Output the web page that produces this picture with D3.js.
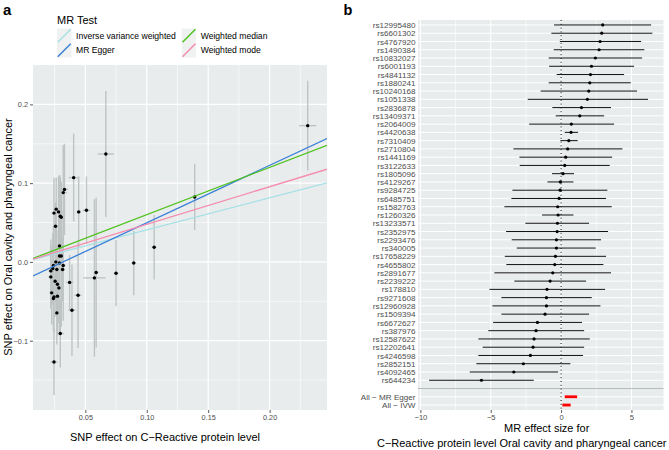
<!DOCTYPE html>
<html>
<head>
<meta charset="utf-8">
<script src="https://cdn.jsdelivr.net/npm/d3@7"></script>
<style>
  body { margin: 0; background: #fff; }
  svg text { font-family: "Liberation Sans", Arial, sans-serif; }
</style>
</head>
<body>
<div class="container"></div>
<script>
// panel a : SNP effects on exposure (x) and outcome (y), with error half-widths
var snpBetaX = [0.231, 0.0667, 0.0405, 0.033, 0.032, 0.0509, 0.0446, 0.0263, 0.0282, 0.0296,
  0.0304, 0.0257, 0.029, 0.029, 0.0304, 0.139, 0.106, 0.0894, 0.075, 0.0588,
  0.0574, 0.0372, 0.024, 0.029, 0.032, 0.0219, 0.0268, 0.0315, 0.0219, 0.0254,
  0.0273, 0.0226, 0.0245, 0.024, 0.0273, 0.0441, 0.0391, 0.0268, 0.0296, 0.0245,
  0.0235, 0.026, 0.0285, 0.0245];
var snpBetaY = [0.173, 0.137, 0.107, 0.092, 0.088, 0.0656, 0.0635, 0.067, 0.0635, 0.058,
  0.0567, 0.0453, 0.0203, 0.0076, 0.0076, 0.0825, 0.0187, -0.0013, -0.0143, -0.0135,
  -0.0203, -0.026, -0.0046, -0.0013, -0.0046, -0.0114, -0.0097, -0.0097, -0.019, -0.0245,
  -0.0283, -0.0393, -0.0444, -0.0465, -0.0435, -0.0423, -0.0613, -0.0647, -0.0909, -0.127,
  -0.0085, 0.0, -0.033, 0.062];
var snpSeY = [0.057, 0.080, 0.056, 0.058, 0.06, 0.043, 0.045, 0.04, 0.045, 0.05,
  0.045, 0.03, 0.09, 0.1, 0.09, 0.042, 0.041, 0.041, 0.042, 0.095,
  0.1, 0.035, 0.05, 0.06, 0.07, 0.04, 0.05, 0.04, 0.04, 0.045,
  0.05, 0.04, 0.045, 0.04, 0.05, 0.067, 0.058, 0.04, 0.043, 0.042,
  0.045, 0.05, 0.045, 0.045];
var snpSeX = [0.007, 0.0065, 0.004, 0.003, 0.003, 0.003, 0.002, 0.002, 0.002, 0.002,
  0.002, 0.002, 0.002, 0.002, 0.002, 0.002, 0.002, 0.002, 0.002, 0.002,
  0.009, 0.003, 0.002, 0.002, 0.002, 0.002, 0.002, 0.002, 0.002, 0.002,
  0.002, 0.002, 0.002, 0.002, 0.002, 0.003, 0.003, 0.002, 0.003, 0.003,
  0.002, 0.002, 0.002, 0.002];

var methodNames = ["Inverse variance weighted", "MR Egger", "Weighted median", "Weighted mode"];
var methodIntercepts = [0, -0.0232, 0, 0];
var methodSlopes = [0.407, 0.729, 0.600, 0.477];

var xTicksA = [0.05, 0.10, 0.15, 0.20];
var xMinorA = [0.025, 0.075, 0.125, 0.175, 0.225];
var yTicksA = [-0.1, 0.0, 0.1, 0.2];
var yMinorA = [-0.15, -0.05, 0.05, 0.15];

// panel b : single SNP MR estimates, top to bottom
var snpNames = ["rs12995480", "rs6601302", "rs4767920", "rs1490384", "rs10832027", "rs6001193",
  "rs4841132", "rs1880241", "rs10240168", "rs1051338", "rs2836878", "rs13409371", "rs2064009",
  "rs4420638", "rs7310409", "rs2710804", "rs1441169", "rs3122633", "rs1805096", "rs4129267",
  "rs9284725", "rs6485751", "rs1582763", "rs1260326", "rs13233571", "rs2352975", "rs2293476",
  "rs340005", "rs17658229", "rs4655802", "rs2891677", "rs2239222", "rs178810", "rs9271608",
  "rs12960928", "rs1509394", "rs6672627", "rs387976", "rs12587622", "rs12202641", "rs4246598",
  "rs2852151", "rs4092465", "rs644234"];
var snpEst = [2.96, 2.89, 2.77, 2.70, 2.44, 2.16, 2.09, 2.04, 1.97, 1.87, 1.45, 1.33, 0.73,
  0.71, 0.55, 0.47, 0.33, 0.26, 0.14, -0.05, -0.07, -0.14, -0.24, -0.21, -0.26, -0.28, -0.33,
  -0.33, -0.40, -0.45, -0.59, -0.78, -1.00, -1.04, -1.04, -1.14, -1.68, -1.78, -1.92, -1.99,
  -2.18, -2.68, -3.36, -5.66];
var snpLo = [-0.50, -0.69, -0.09, -0.52, -0.88, -0.85, -0.31, -0.88, -1.45, -2.37, -0.62, -0.38,
  -2.27, 0.26, -0.05, -3.39, -2.96, -2.94, -0.64, -0.97, -3.46, -3.53, -4.03, -1.35, -2.54,
  -3.91, -3.51, -3.15, -4.00, -3.89, -4.74, -3.32, -5.09, -4.24, -4.88, -4.24, -4.83, -5.17,
  -5.88, -5.57, -5.88, -6.02, -6.49, -9.38];
var snpHi = [6.40, 6.49, 5.69, 5.92, 5.76, 5.19, 4.48, 4.95, 5.40, 6.18, 3.55, 3.06, 3.77,
  1.21, 1.18, 4.36, 3.63, 3.46, 0.92, 0.88, 3.29, 3.20, 3.60, 0.88, 1.99, 3.34, 2.84, 2.46,
  3.20, 3.01, 3.55, 1.78, 3.13, 2.18, 2.80, 1.99, 1.49, 1.64, 2.04, 1.64, 1.56, 0.66, -0.21,
  -1.94];
var allNames = ["All \u2212 MR Egger", "All \u2212 IVW"];
var allLo = [0.26, 0.09];
var allHi = [1.14, 0.68];

var xTicksB = [-10, -5, 0, 5];
var xMinorB = [-7.5, -2.5, 2.5];

const WIDTH = 669;
const HEIGHT = 450;
const PANEL_BG = "#e9ecec";
const GREY_TEXT = "#4d4d4d";
var methodColours = ["#a6e0e6", "#3a80d8", "#4fc21e", "#f58cad"];

var translate = function (x, y) {
  return "translate(" + x + "," + y + ")";
};

var svg = d3.select(".container").append("svg")
  .attr("width", WIDTH)
  .attr("height", HEIGHT);

var styleAxis = function (g, size) {
  g.select(".domain").remove();
  g.selectAll(".tick line").attr("stroke", "#333").attr("stroke-width", 0.8);
  g.selectAll(".tick text")
    .attr("fill", GREY_TEXT)
    .style("font-size", size + "px");
};

// ---------- panel a ----------
var drawScatter = function () {
  var xA = d3.scaleLinear().domain([0.0074, 0.2467]).range([33, 327]);
  var yA = d3.scaleLinear().domain([-0.188, 0.25]).range([410, 65]);
  var g = svg.append("g");

  g.append("rect")
    .attr("x", xA.range()[0]).attr("y", yA.range()[1])
    .attr("width", xA.range()[1] - xA.range()[0])
    .attr("height", yA.range()[0] - yA.range()[1])
    .attr("fill", PANEL_BG);

  g.selectAll(".vminor").data(xMinorA).enter().append("line")
    .attr("x1", xA).attr("x2", xA).attr("y1", 65).attr("y2", 410)
    .attr("stroke", "#fff").attr("stroke-width", 0.6);
  g.selectAll(".hminor").data(yMinorA).enter().append("line")
    .attr("y1", yA).attr("y2", yA).attr("x1", 33).attr("x2", 327)
    .attr("stroke", "#fff").attr("stroke-width", 0.6);
  g.selectAll(".vmajor").data(xTicksA).enter().append("line")
    .attr("x1", xA).attr("x2", xA).attr("y1", 65).attr("y2", 410)
    .attr("stroke", "#fff").attr("stroke-width", 1.2);
  g.selectAll(".hmajor").data(yTicksA).enter().append("line")
    .attr("y1", yA).attr("y2", yA).attr("x1", 33).attr("x2", 327)
    .attr("stroke", "#fff").attr("stroke-width", 1.2);

  var idx = d3.range(snpBetaX.length);

  g.selectAll(".ebar").data(idx).enter().append("line")
    .attr("x1", function (i) { return xA(snpBetaX[i]); })
    .attr("x2", function (i) { return xA(snpBetaX[i]); })
    .attr("y1", function (i) { return yA(snpBetaY[i] - snpSeY[i]); })
    .attr("y2", function (i) { return yA(snpBetaY[i] + snpSeY[i]); })
    .attr("stroke", "#bec3c3").attr("stroke-width", 1.4);
  g.selectAll(".ebarh").data(idx).enter().append("line")
    .attr("x1", function (i) { return xA(snpBetaX[i] - snpSeX[i]); })
    .attr("x2", function (i) { return xA(snpBetaX[i] + snpSeX[i]); })
    .attr("y1", function (i) { return yA(snpBetaY[i]); })
    .attr("y2", function (i) { return yA(snpBetaY[i]); })
    .attr("stroke", "#bec3c3").attr("stroke-width", 1.4);

  g.selectAll("circle").data(idx).enter().append("circle")
    .attr("cx", function (i) { return xA(snpBetaX[i]); })
    .attr("cy", function (i) { return yA(snpBetaY[i]); })
    .attr("r", 1.7)
    .attr("fill", "#000");

  // fitted MR lines
  svg.append("clipPath").attr("id", "clipA").append("rect")
    .attr("x", 33).attr("y", 65).attr("width", 294).attr("height", 345);
  var xd = xA.domain();
  g.append("g").attr("clip-path", "url(#clipA)")
    .selectAll("line").data(d3.range(methodNames.length)).enter().append("line")
    .attr("x1", xA(xd[0])).attr("x2", xA(xd[1]))
    .attr("y1", function (m) { return yA(methodIntercepts[m] + methodSlopes[m] * xd[0]); })
    .attr("y2", function (m) { return yA(methodIntercepts[m] + methodSlopes[m] * xd[1]); })
    .attr("stroke", function (m) { return methodColours[m]; })
    .attr("stroke-width", 1.3);

  var xAxis = d3.axisBottom(xA).tickValues(xTicksA).tickFormat(d3.format(".2f"))
    .tickSize(3).tickPadding(2);
  var yAxis = d3.axisLeft(yA).tickValues(yTicksA).tickFormat(d3.format(".1f"))
    .tickSize(3).tickPadding(2);
  svg.append("g").attr("transform", translate(0, 410)).call(xAxis)
    .call(function (s) { styleAxis(s, 7.3); });
  svg.append("g").attr("transform", translate(33, 0)).call(yAxis)
    .call(function (s) { styleAxis(s, 7.3); });

  svg.append("text").attr("x", 165).attr("y", 441)
    .attr("text-anchor", "middle").style("font-size", "11px")
    .text("SNP effect on C\u2212Reactive protein level");
  svg.append("text").attr("transform", translate(11.5, 237) + " rotate(-90)")
    .attr("text-anchor", "middle").style("font-size", "11px")
    .text("SNP effect on Oral cavity and pharyngeal cancer");

  // legend
  var leg = svg.append("g");
  leg.append("text").attr("x", 57).attr("y", 23.5).style("font-size", "11px").text("MR Test");
  var keyX = [57, 181.7];
  var keyY = [28.5, 43];
  var order = [[0, 0, 0], [1, 0, 1], [2, 1, 0], [3, 1, 1]];
  order.forEach(function (o) {
    var kx = keyX[o[1]], ky = keyY[o[2]];
    leg.append("rect").attr("x", kx).attr("y", ky).attr("width", 14.5).attr("height", 14.5)
      .attr("fill", "#f0f2f2");
    leg.append("line").attr("x1", kx + 0.8).attr("y1", ky + 13.7)
      .attr("x2", kx + 13.7).attr("y2", ky + 0.8)
      .attr("stroke", methodColours[o[0]]).attr("stroke-width", 1.5);
    leg.append("text").attr("x", kx + 19).attr("y", ky + 10.3)
      .style("font-size", "8.6px").attr("fill", "#000")
      .text(methodNames[o[0]]);
  });

  svg.append("text").attr("x", 3).attr("y", 15)
    .style("font-size", "15px").style("font-weight", "bold").text("a");
};

// ---------- panel b ----------
var drawForest = function () {
  var rows = snpNames.concat([""]).concat(allNames);
  var xB = d3.scaleLinear().domain([-10.17, 7.28]).range([418, 663.5]);
  var yB = d3.scalePoint().domain(rows).range([20, 410]).padding(0.6);
  var g = svg.append("g");

  g.append("rect").attr("x", 418).attr("y", 20)
    .attr("width", 245.5).attr("height", 390).attr("fill", PANEL_BG);

  g.selectAll(".vminor").data(xMinorB).enter().append("line")
    .attr("x1", xB).attr("x2", xB).attr("y1", 20).attr("y2", 410)
    .attr("stroke", "#fff").attr("stroke-width", 0.6);
  g.selectAll(".vmajor").data(xTicksB).enter().append("line")
    .attr("x1", xB).attr("x2", xB).attr("y1", 20).attr("y2", 410)
    .attr("stroke", "#fff").attr("stroke-width", 1.1);
  g.selectAll(".hmajor").data(rows).enter().append("line")
    .attr("y1", yB).attr("y2", yB).attr("x1", 418).attr("x2", 663.5)
    .attr("stroke", "#fff").attr("stroke-width", 1);

  // separator on the blank row
  g.append("line").attr("x1", 418).attr("x2", 663.5)
    .attr("y1", yB("")).attr("y2", yB(""))
    .attr("stroke", "#b4bcbc").attr("stroke-width", 1);

  g.append("line").attr("x1", xB(0)).attr("x2", xB(0)).attr("y1", 20).attr("y2", 410)
    .attr("stroke", "#000").attr("stroke-width", 1).attr("stroke-dasharray", "1,2.8");

  var idx = d3.range(snpNames.length);
  g.selectAll(".ci").data(idx).enter().append("line")
    .attr("x1", function (i) { return xB(snpLo[i]); })
    .attr("x2", function (i) { return xB(snpHi[i]); })
    .attr("y1", function (i) { return yB(snpNames[i]); })
    .attr("y2", function (i) { return yB(snpNames[i]); })
    .attr("stroke", "#111").attr("stroke-width", 1);
  g.selectAll("circle").data(idx).enter().append("circle")
    .attr("cx", function (i) { return xB(snpEst[i]); })
    .attr("cy", function (i) { return yB(snpNames[i]); })
    .attr("r", 1.6).attr("fill", "#000");

  g.selectAll(".allci").data(d3.range(allNames.length)).enter().append("line")
    .attr("x1", function (i) { return xB(allLo[i]); })
    .attr("x2", function (i) { return xB(allHi[i]); })
    .attr("y1", function (i) { return yB(allNames[i]); })
    .attr("y2", function (i) { return yB(allNames[i]); })
    .attr("stroke", "#ff0000").attr("stroke-width", 2.8);

  var xAxis = d3.axisBottom(xB).tickValues(xTicksB).tickFormat(d3.format("d"))
    .tickSize(3).tickPadding(2);
  svg.append("g").attr("transform", translate(0, 410)).call(xAxis)
    .call(function (s) { styleAxis(s, 7.6); });

  var yAxis = d3.axisLeft(yB).tickSize(0).tickPadding(2.5);
  svg.append("g").attr("transform", translate(418, 0)).call(yAxis)
    .call(function (s) { styleAxis(s, 8.1); });

  svg.append("text").attr("x", 546.7).attr("y", 432)
    .attr("text-anchor", "middle").style("font-size", "11px")
    .text("MR effect size for");
  svg.append("text").attr("x", 521.7).attr("y", 447)
    .attr("text-anchor", "middle").style("font-size", "11px")
    .text("C\u2212Reactive protein level Oral cavity and pharyngeal cancer");

  svg.append("text").attr("x", 343.5).attr("y", 15)
    .style("font-size", "14.5px").style("font-weight", "bold").text("b");
};

drawScatter();
drawForest();
</script>
</body>
</html>
